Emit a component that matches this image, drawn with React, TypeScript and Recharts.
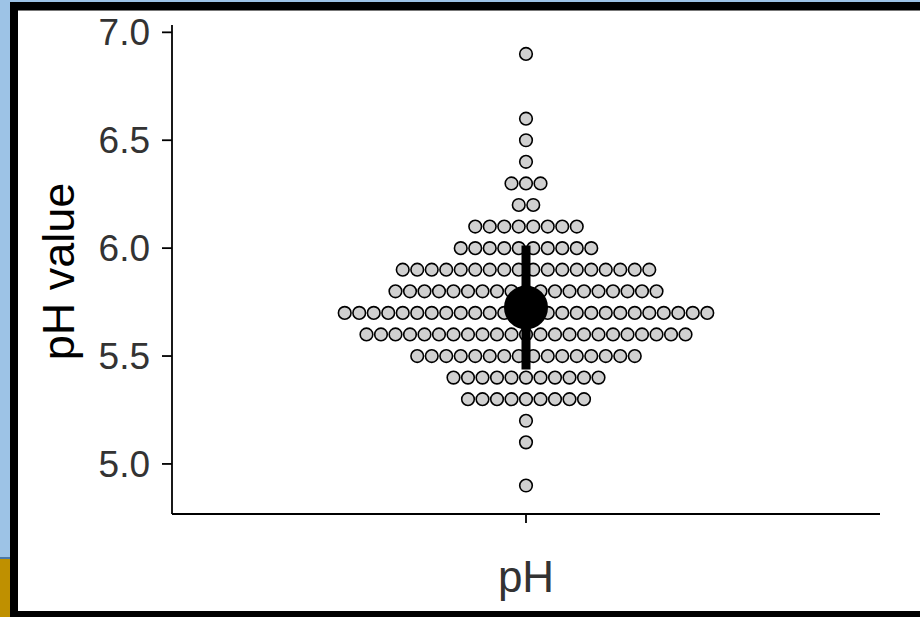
import * as React from "react";
import { ScatterChart, Scatter, XAxis, YAxis } from "recharts";

// pH bins (dot rows) read top to bottom, with how many samples sit in each
const phBins = [6.9, 6.6, 6.5, 6.4, 6.3, 6.2, 6.1, 6.0, 5.9, 5.8, 5.7, 5.6, 5.5, 5.4, 5.3, 5.2, 5.1, 4.9];
const phCounts = [1, 1, 1, 1, 3, 2, 8, 10, 18, 19, 26, 23, 16, 11, 9, 1, 1, 1];
const yTicks = [5.0, 5.5, 6.0, 6.5, 7.0];
const categoryLabel = "pH";
const yTitle = "pH value";

// stack dots sideways, centred on the category (one unit = one dot width)
function buildDots(): Array<{ x: number; y: number }> {
    const dots: Array<{ x: number; y: number }> = [];
    phBins.forEach((bin, i) => {
        const n = phCounts[i];
        for (let k = 0; k < n; k++) {
            dots.push({ x: k - (n - 1) / 2, y: bin });
        }
    });
    return dots;
}

function meanSd(): { mean: number; sd: number } {
    let n = 0, sum = 0;
    phBins.forEach((b, i) => { n += phCounts[i]; sum += b * phCounts[i]; });
    const mean = sum / n;
    let ss = 0;
    phBins.forEach((b, i) => { ss += phCounts[i] * (b - mean) * (b - mean); });
    return { mean, sd: Math.sqrt(ss / (n - 1)) };
}

const font = "'Liberation Sans', Arial, sans-serif";

const Dot = (p: any) => (
    <circle cx={p.cx} cy={p.cy} r={6.3} fill="#D0D0D0" stroke="#000" strokeWidth={1.6} />
);

const MeanDot = (p: any) => <circle cx={p.cx} cy={p.cy} r={22} fill="#000" />;
const NoDot = () => <g />;

const App: React.FunctionComponent = () => {
    const dots = buildDots();
    const { mean, sd } = meanSd();
    const sdRange = [{ x: 0, y: mean - sd }, { x: 0, y: mean + sd }];
    const meanPoint = [{ x: 0, y: mean }];

    return (
        <div style={{ position: "absolute", left: 0, top: 0, width: 920, height: 617, background: "#9DC3E6", overflow: "hidden" }}>
            <div style={{ position: "absolute", left: 0, top: 557, width: 10, height: 60, background: "#BF9000", borderTop: "2px solid #4a78a8" }} />
            <div style={{ position: "absolute", left: 10, top: 2, width: 910, height: 615, background: "#000" }} />
            <div style={{ position: "absolute", left: 18, top: 10, width: 902, height: 600, background: "#fff", borderTop: "1px solid #777" }} />
            <div style={{ position: "absolute", left: 0, top: 0 }}>
                <ScatterChart width={920} height={617} margin={{ top: 25, right: 40, bottom: 0, left: 0 }}>
                    <XAxis
                        type="number" dataKey="x" domain={[-24.41, 24.41]} ticks={[0]}
                        tickFormatter={() => categoryLabel} height={103}
                        stroke="#000" strokeWidth={1.8} tickSize={9} tickMargin={38}
                        tick={{ fill: "#333", fontSize: 44, fontFamily: font }}
                        allowDataOverflow
                    />
                    <YAxis
                        type="number" dataKey="y" domain={[4.768, 7.034]} ticks={yTicks}
                        tickFormatter={(v: number) => v.toFixed(1)} width={172}
                        stroke="#000" strokeWidth={1.8} tickSize={10} tickMargin={12}
                        tick={{ fill: "#333", fontSize: 37, fontFamily: font }}
                        allowDataOverflow
                        label={{
                            content: () => (
                                <text x={57.5} y={271.5} transform="rotate(-90 57.5 271.5)" dy="0.36em"
                                    textAnchor="middle" fontSize={45} fontFamily={font} fill="#000">
                                    {yTitle}
                                </text>
                            ),
                        }}
                    />
                    <Scatter data={dots} shape={Dot} isAnimationActive={false} />
                    <Scatter data={sdRange} shape={NoDot} line={{ stroke: "#000", strokeWidth: 9 }} isAnimationActive={false} />
                    <Scatter data={meanPoint} shape={MeanDot} isAnimationActive={false} />
                </ScatterChart>
            </div>
        </div>
    );
};

export default App;
